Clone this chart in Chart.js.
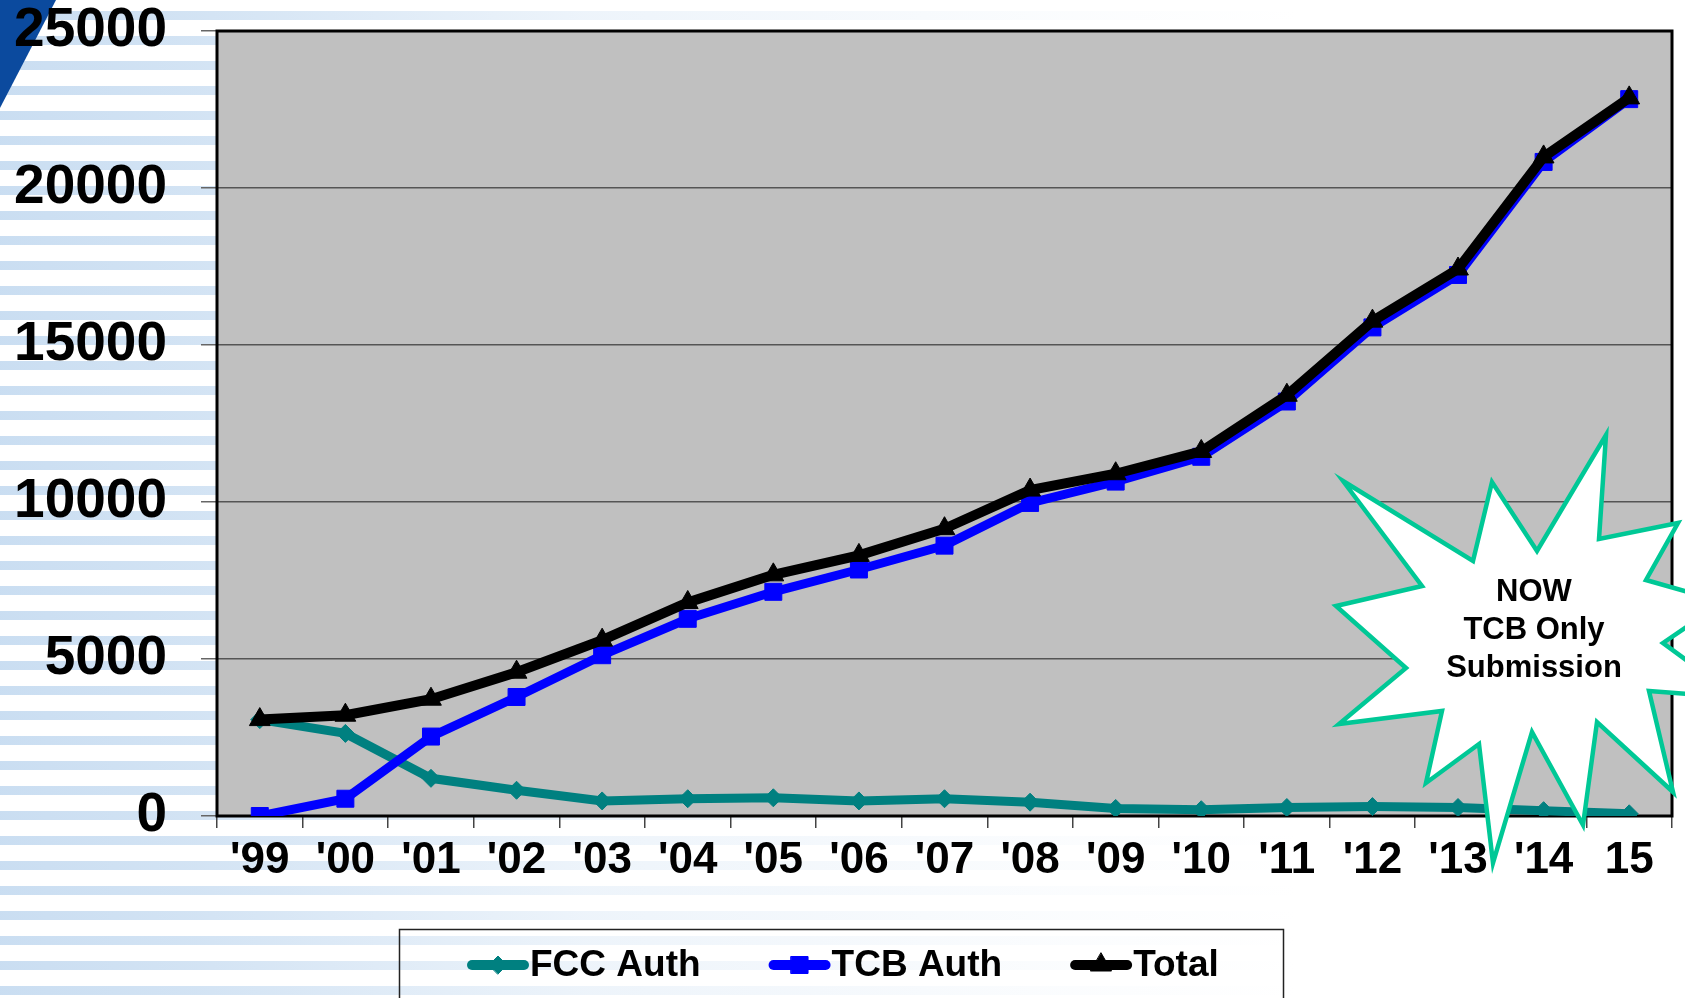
<!DOCTYPE html>
<html>
<head>
<meta charset="utf-8">
<script src="https://cdn.jsdelivr.net/npm/chart.js@4.4.1/dist/chart.umd.min.js"></script>
<style>
  html, body { margin: 0; padding: 0; background: #fff; overflow: hidden; }
  #wrap { width: 1685px; height: 998px; }
</style>
</head>
<body>
<div id="wrap"><canvas id="chart" width="1685" height="998"></canvas></div>
<script>
const years = ["'99", "'00", "'01", "'02", "'03", "'04", "'05", "'06", "'07", "'08", "'09", "'10", "'11", "'12", "'13", "'14", "15"];
const fccAuth = [3070, 2630, 1200, 820, 480, 550, 580, 480, 550, 440, 240, 200, 270, 300, 270, 170, 70];
const tcbAuth = [0, 550, 2530, 3790, 5120, 6280, 7140, 7850, 8610, 9970, 10650, 11440, 13200, 15560, 17230, 20830, 22830];
const total = [3070, 3210, 3720, 4580, 5600, 6800, 7680, 8300, 9150, 10380, 10900, 11610, 13400, 15760, 17420, 20990, 22870];
const seriesNames = ['FCC Auth', 'TCB Auth', 'Total'];
const starText = ['NOW', 'TCB Only', 'Submission'];

const FONT = '"Liberation Sans", Arial, sans-serif';

// white page with fading blue stripes, grey plot area
const pageBackground = {
    id: 'pageBackground',
    beforeDraw(chart) {
        const { ctx, chartArea: a, width, height } = chart;
        ctx.save();
        ctx.fillStyle = '#fff';
        ctx.fillRect(0, 0, width, height);
        const grad = ctx.createLinearGradient(0, 0, 1300, 0);
        grad.addColorStop(0, 'rgba(196,218,240,0.9)');
        grad.addColorStop(0.15, 'rgba(196,218,240,0.75)');
        grad.addColorStop(0.45, 'rgba(196,218,240,0.3)');
        grad.addColorStop(0.8, 'rgba(196,218,240,0.08)');
        grad.addColorStop(1, 'rgba(196,218,240,0)');
        ctx.fillStyle = grad;
        for (let y = 11; y < height; y += 25) ctx.fillRect(0, y, width, 9);
        ctx.fillStyle = '#0b4a9e';
        ctx.beginPath();
        ctx.moveTo(0, 0); ctx.lineTo(56, 0); ctx.lineTo(0, 108);
        ctx.closePath();
        ctx.fill();
        ctx.fillStyle = '#c0c0c0';
        ctx.fillRect(a.left, a.top, a.right - a.left, a.bottom - a.top);
        ctx.restore();
    }
};

// black frame round the plot
const plotFrame = {
    id: 'plotFrame',
    beforeDatasetsDraw(chart) {
        const { ctx, chartArea: a } = chart;
        ctx.save();
        ctx.strokeStyle = '#000';
        ctx.lineWidth = 3;
        ctx.strokeRect(a.left, a.top, a.right - a.left, a.bottom - a.top);
        ctx.restore();
    }
};

// boxed legend under the axis
const boxLegend = {
    id: 'boxLegend',
    afterDraw(chart) {
        const { ctx } = chart;
        ctx.save();
        ctx.strokeStyle = '#222';
        ctx.lineWidth = 1.5;
        ctx.strokeRect(399.5, 929.5, 884, 100);
        ctx.font = 'bold 37px ' + FONT;
        ctx.textBaseline = 'middle';
        ctx.fillStyle = '#000';
        let x = 468;
        const y = 965;
        chart.data.datasets.forEach(ds => {
            ctx.strokeStyle = ds.borderColor;
            ctx.lineWidth = 10;
            ctx.lineCap = 'round';
            ctx.beginPath();
            ctx.moveTo(x + 4, y); ctx.lineTo(x + 56, y);
            ctx.stroke();
            ctx.fillStyle = ds.borderColor;
            ctx.strokeStyle = ds.borderColor;
            ctx.lineWidth = 1;
            Chart.helpers.drawPoint(ctx, { pointStyle: ds.pointStyle, radius: ds.pointRadius, rotation: 0, borderWidth: 1 }, x + 30, y);
            ctx.fillStyle = '#000';
            ctx.fillText(ds.label, x + 62, y + 1);
            x += 62 + ctx.measureText(ds.label).width + 69;
        });
        ctx.restore();
    }
};

// starburst callout
const starburst = {
    id: 'starburst',
    afterDraw(chart) {
        const { ctx } = chart;
        const pts = [
            [1606, 435], [1599, 539], [1678, 523], [1646, 580], [1723, 602], [1663, 643],
            [1738, 698], [1649, 691], [1673, 792], [1597, 722], [1583, 825], [1532, 732],
            [1493, 863], [1479, 744], [1426, 783], [1442, 711], [1339, 724], [1406, 668],
            [1336, 606], [1422, 586], [1343, 481], [1473, 561], [1492, 482], [1537, 551]
        ];
        ctx.save();
        ctx.beginPath();
        pts.forEach((p, i) => i ? ctx.lineTo(p[0], p[1]) : ctx.moveTo(p[0], p[1]));
        ctx.closePath();
        ctx.fillStyle = '#fff';
        ctx.fill();
        ctx.strokeStyle = '#00c896';
        ctx.lineWidth = 4.5;
        ctx.lineJoin = 'miter';
        ctx.stroke();
        ctx.fillStyle = '#000';
        ctx.font = 'bold 31px ' + FONT;
        ctx.textAlign = 'center';
        ctx.textBaseline = 'middle';
        starText.forEach((t, i) => ctx.fillText(t, 1534, 592 + i * 38));
        ctx.restore();
    }
};

const ctx = document.getElementById('chart');
new Chart(ctx, {
    type: 'line',
    data: {
        labels: years,
        datasets: [
            {
                label: seriesNames[0], data: fccAuth, order: 3,
                borderColor: '#008080', backgroundColor: '#008080', borderWidth: 9,
                pointStyle: 'rectRot', pointRadius: 9, pointBorderWidth: 1, pointBorderColor: '#008080'
            },
            {
                label: seriesNames[1], data: tcbAuth, order: 2,
                borderColor: '#0000ff', backgroundColor: '#0000ff', borderWidth: 9,
                pointStyle: 'rect', pointRadius: 12, pointBorderWidth: 1, pointBorderColor: '#0000ff'
            },
            {
                label: seriesNames[2], data: total, order: 1,
                borderColor: '#000000', backgroundColor: '#000000', borderWidth: 10,
                pointStyle: 'triangle', pointRadius: 12, pointBorderWidth: 1, pointBorderColor: '#000000'
            }
        ]
    },
    options: {
        responsive: false,
        animation: false,
        devicePixelRatio: 1,
        layout: { padding: { left: 0, top: 31, right: 8, bottom: 0 } },
        plugins: {
            legend: { display: false },
            tooltip: { enabled: false }
        },
        elements: { line: { tension: 0 } },
        scales: {
            x: {
                offset: true,
                grid: { drawOnChartArea: false, tickLength: 12, tickColor: '#444', lineWidth: 1.5, offset: true },
                border: { display: false },
                ticks: { color: '#000', font: { family: FONT, size: 44, weight: 'bold', lineHeight: 1.2 }, padding: 6, maxRotation: 0, autoSkip: false },
                afterFit(scale) { scale.height = 182; }
            },
            y: {
                min: 0, max: 25000,
                grid: { color: '#555', lineWidth: 1.5, tickLength: 16, tickColor: '#666' },
                border: { display: false },
                ticks: {
                    stepSize: 5000, color: '#000', padding: 34,
                    font: { family: FONT, size: 55, weight: 'bold', lineHeight: 1 },
                    callback: v => String(v)
                },
                afterFit(scale) {
                    scale.width = 217;
                    scale.paddingTop = 0;
                    scale.paddingBottom = 0;
                }
            }
        }
    },
    plugins: [pageBackground, plotFrame, boxLegend, starburst]
});
</script>
</body>
</html>
